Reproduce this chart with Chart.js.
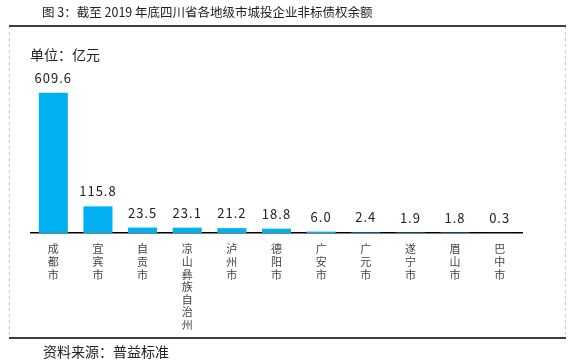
<!DOCTYPE html>
<html>
<head>
<meta charset="utf-8">
<script src="https://cdn.jsdelivr.net/npm/chart.js@4"></script>
<style>
  html, body { margin: 0; padding: 0; background: #fff; }
  #wrap { width: 577px; height: 362px; position: relative; }
</style>
</head>
<body>
<div id="wrap"><canvas id="grafica"></canvas></div>
<script>
// datos
const ciudades = ["成都市", "宜宾市", "自贡市", "凉山彝族自治州", "泸州市", "德阳市", "广安市", "广元市", "遂宁市", "眉山市", "巴中市"];
const saldos = [609.6, 115.8, 23.5, 23.1, 21.2, 18.8, 6.0, 2.4, 1.9, 1.8, 0.3];

const titulo = "图 3：截至 2019 年底四川省各地级市城投企业非标债权余额";
const unidad = "单位：亿元";
const fuente = "资料来源：普益标准";

const FUENTE = '"Noto Sans CJK SC", "Noto Sans", sans-serif';

// cada caracter en una linea (etiquetas verticales)
const etiquetas = ciudades.map(c => c.split(""));

// marco, titulo, unidad y fuente
const marco = {
  id: "marco",
  beforeDraw(chart) {
    const ctx = chart.ctx;
    ctx.save();
    ctx.fillStyle = "#fff";
    ctx.fillRect(0, 0, chart.width, chart.height);

    ctx.strokeStyle = "#c8c8c8";
    ctx.lineWidth = 1;
    ctx.setLineDash([3, 3]);
    ctx.beginPath();
    ctx.moveTo(9.5, 26); ctx.lineTo(9.5, 338);
    ctx.moveTo(565.5, 26); ctx.lineTo(565.5, 338);
    ctx.stroke();
    ctx.setLineDash([]);

    ctx.strokeStyle = "#000";
    ctx.lineWidth = 1.5;
    ctx.beginPath();
    ctx.moveTo(9, 26); ctx.lineTo(566, 26);
    ctx.moveTo(9, 338); ctx.lineTo(566, 338);
    ctx.stroke();

    ctx.fillStyle = "#222";
    ctx.textBaseline = "middle";
    ctx.textAlign = "left";
    ctx.font = "12.5px " + FUENTE;
    ctx.fillText(titulo, 42, 12);
    ctx.font = "14px " + FUENTE;
    ctx.fillText(unidad, 30, 55);
    ctx.fillText(fuente, 43, 352);
    ctx.restore();
  }
};

// valores encima de cada barra
const valores = {
  id: "valores",
  afterDatasetsDraw(chart) {
    const ctx = chart.ctx;
    const meta = chart.getDatasetMeta(0);
    ctx.save();
    ctx.fillStyle = "#222";
    ctx.font = "13px " + FUENTE;
    ctx.textAlign = "center";
    ctx.textBaseline = "middle";
    if ("letterSpacing" in ctx) ctx.letterSpacing = "1px";
    meta.data.forEach((barra, i) => {
      ctx.fillText(saldos[i].toFixed(1), barra.x, barra.y - 15);
    });
    ctx.restore();
  }
};

new Chart(document.getElementById("grafica"), {
  type: "bar",
  data: {
    labels: etiquetas,
    datasets: [{
      data: saldos,
      backgroundColor: "#00B0F0",
      borderWidth: 0,
      barPercentage: 0.65,
      categoryPercentage: 1
    }]
  },
  options: {
    responsive: true,
    maintainAspectRatio: false,
    animation: false,
    layout: { padding: { left: 31, right: 55, top: 72, bottom: 0 } },
    plugins: {
      legend: { display: false },
      tooltip: { enabled: false }
    },
    scales: {
      x: {
        grid: { display: false, drawTicks: false },
        border: { display: true, color: "#000", width: 1.5 },
        ticks: {
          color: "#444",
          font: { family: FUENTE, size: 11, lineHeight: 1.14 },
          padding: 10,
          maxRotation: 0,
          autoSkip: false
        },
        afterFit(scale) { scale.height = 129; }
      },
      y: {
        display: false,
        min: 0,
        max: 700
      }
    }
  },
  plugins: [marco, valores]
});
</script>
</body>
</html>
